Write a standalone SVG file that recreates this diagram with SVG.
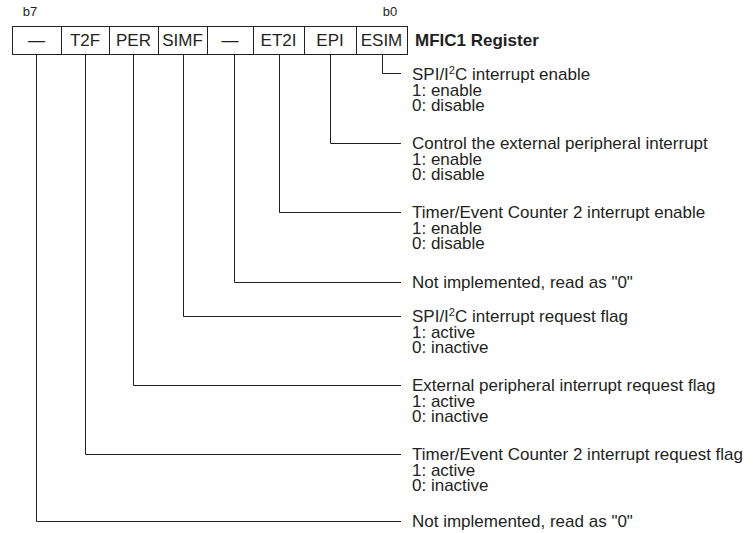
<svg xmlns="http://www.w3.org/2000/svg" width="753" height="533" viewBox="0 0 753 533">
<style>
text{font-family:"Liberation Sans",Arial,sans-serif;font-size:17px;fill:#231f20}
.c{text-anchor:middle}
.b{font-weight:bold}
.s{font-size:13px}
.sup{font-size:11px}
.cell{fill:none;stroke:#231f20;stroke-width:1}
.conn{fill:none;stroke:#231f20;stroke-width:1}
</style>
<rect width="753" height="533" fill="#fff"/>
<g id="register">
<rect class="cell" x="12.5" y="26.5" width="395" height="28"/>
<path class="cell" d="M61.5 26.5V54.5M109.5 26.5V54.5M158.5 26.5V54.5M207.5 26.5V54.5M253.5 26.5V54.5M304.5 26.5V54.5M356.5 26.5V54.5"/>
<text x="30" y="16" class="c s">b7</text>
<text x="390" y="16" class="c s">b0</text>
<text x="36.5" y="46" class="c">—</text>
<text x="85" y="46" class="c">T2F</text>
<text x="133.5" y="46" class="c">PER</text>
<text x="182.5" y="46" class="c">SIMF</text>
<text x="230" y="46" class="c">—</text>
<text x="278.5" y="46" class="c">ET2I</text>
<text x="330" y="46" class="c">EPI</text>
<text x="381.5" y="46" class="c">ESIM</text>
<text x="415" y="46" class="b">MFIC1 Register</text>
</g>
<g id="connectors">
<path class="conn" d="M382.5 54.5V73.5H401"/>
<path class="conn" d="M330.5 54.5V143.5H401"/>
<path class="conn" d="M279.5 54.5V212.5H401"/>
<path class="conn" d="M234.5 54.5V282.5H401"/>
<path class="conn" d="M183.5 54.5V316.5H401"/>
<path class="conn" d="M133.5 54.5V385.5H401"/>
<path class="conn" d="M85.5 54.5V454.5H401"/>
<path class="conn" d="M36.5 54.5V521.5H401"/>
</g>
<g id="desc-esim">
<text x="412" y="80">SPI/I<tspan class="sup" dy="-6">2</tspan><tspan dy="6">C interrupt enable</tspan><tspan x="412" dy="15.5">1: enable</tspan><tspan x="412" dy="15.5">0: disable</tspan></text>
</g>
<g id="desc-epi">
<text x="412" y="149">Control the external peripheral interrupt<tspan x="412" dy="15.5">1: enable</tspan><tspan x="412" dy="15.5">0: disable</tspan></text>
</g>
<g id="desc-et2i">
<text x="412" y="218">Timer/Event Counter 2 interrupt enable<tspan x="412" dy="15.5">1: enable</tspan><tspan x="412" dy="15.5">0: disable</tspan></text>
</g>
<g id="desc-b3">
<text x="412" y="288">Not implemented, read as "0"</text>
</g>
<g id="desc-simf">
<text x="412" y="322">SPI/I<tspan class="sup" dy="-6">2</tspan><tspan dy="6">C interrupt request flag</tspan><tspan x="412" dy="15.5">1: active</tspan><tspan x="412" dy="15.5">0: inactive</tspan></text>
</g>
<g id="desc-per">
<text x="412" y="391">External peripheral interrupt request flag<tspan x="412" dy="15.5">1: active</tspan><tspan x="412" dy="15.5">0: inactive</tspan></text>
</g>
<g id="desc-t2f">
<text x="412" y="460">Timer/Event Counter 2 interrupt request flag<tspan x="412" dy="15.5">1: active</tspan><tspan x="412" dy="15.5">0: inactive</tspan></text>
</g>
<g id="desc-b7">
<text x="412" y="527">Not implemented, read as "0"</text>
</g>
</svg>
